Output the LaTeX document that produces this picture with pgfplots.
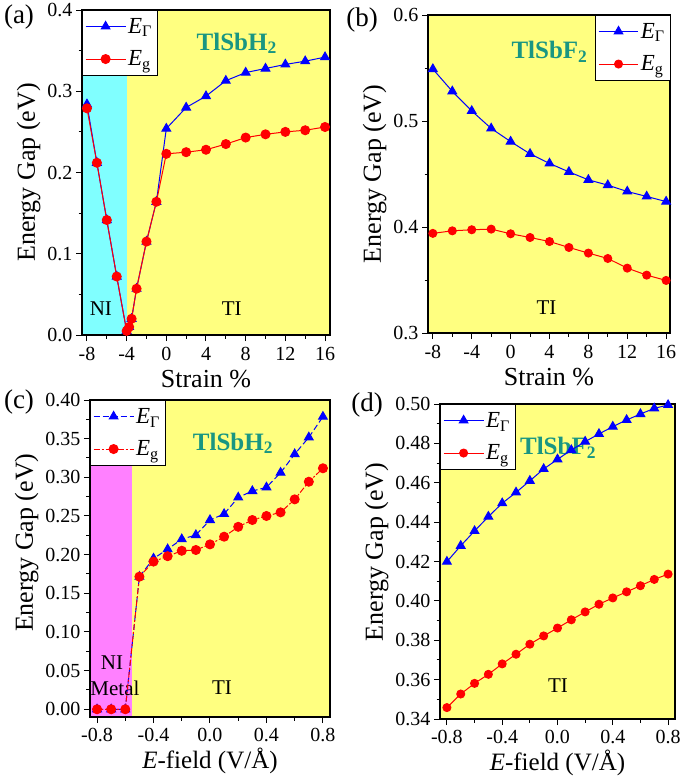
\documentclass[border=0pt]{standalone}
\usepackage{pgfplots}
\pgfplotsset{compat=1.18}
\usepackage{fontspec}
\setmainfont{Liberation Serif}
\definecolor{cyanbg}{RGB}{128,255,255}
\definecolor{yellowbg}{RGB}{255,255,128}
\definecolor{magbg}{RGB}{255,128,255}
\definecolor{tealtxt}{RGB}{25,150,130}
\tikzset{
 ann/.style={font=\fontsize{21}{21}\selectfont},
 mat/.style={font=\fontsize{25}{25}\selectfont\bfseries, text=tealtxt},
 plab/.style={font=\fontsize{27}{27}\selectfont},
}
\pgfplotsset{
 panel/.style={scale only axis, axis on top, clip=false,
  axis line style={line width=1.1pt},
  tick align=outside, xtick pos=bottom, ytick pos=left,
  major tick length=6pt, minor tick length=3.5pt,
  every tick/.append style={black,line width=1pt},
  tick label style={font=\fontsize{20}{20}\selectfont},
  xticklabel style={yshift=-3pt},
  label style={font=\fontsize{26}{26}\selectfont},
  xlabel style={yshift=-2pt},
  /pgf/number format/assume math mode=true,
  ylabel={Energy Gap (eV)},
  legend cell align=left,
  legend style={draw=black, fill=white, font=\fontsize{23}{23}\selectfont, inner xsep=3pt, inner ysep=6pt, row sep=12pt},
  legend image code/.code={\draw[mark repeat=2,mark phase=2,##1] plot coordinates {(0cm,0cm) (0.7cm,0cm) (1.4cm,0cm)};}},
 efield/.style={xlabel={\textit{E}-field (V/Å)}, xlabel style={yshift=3pt, font=\fontsize{25}{25}\selectfont}, xticklabel style={yshift=1pt}},
 gam/.style={blue, line width=1pt, mark=triangle*, mark size=5pt, mark options={solid}},
 gap/.style={red, line width=1pt, mark=*, mark size=4.5pt, mark options={solid}},
 bg/.style={draw=none, fill=#1, forget plot},
}
\begin{document}
\begin{tikzpicture}
\path[use as bounding box] (0,0) rectangle (685pt,-777pt);
% (a)
\begin{axis}[panel, at={(82pt,-335pt)}, anchor=south west, width=248pt, height=325pt,
 xmin=-8.5, xmax=16.5, ymin=0, ymax=0.4,
 xtick={-8,-4,0,4,8,12,16}, minor x tick num=1,
 ytick={0,0.1,0.2,0.3,0.4}, minor y tick num=1,
 yticklabel style={/pgf/number format/.cd, fixed, fixed zerofill, precision=1},
 xlabel={Strain \%},
 legend style={at={(0,1)}, anchor=north west}]
\addplot[bg=cyanbg] coordinates {(-8.5,0) (-4,0) (-4,0.4) (-8.5,0.4)} -- cycle;
\addplot[bg=yellowbg] coordinates {(-4,0) (16.5,0) (16.5,0.4) (-4,0.4)} -- cycle;
\node[mat] at (axis cs:7.1,0.359) {TlSbH\textsubscript{2}};
\node[ann] at (axis cs:-6.6,0.033) {NI};
\node[ann] at (axis cs:6.6,0.033) {TI};
\addplot[gam] coordinates {(-8,0.284) (-7,0.212) (-6,0.1415) (-5,0.072) (-4,0.005) (-3.75,0.01) (-3.5,0.02) (-3,0.057) (-2,0.115) (-1,0.164) (0,0.254) (2,0.280) (4,0.294) (6,0.313) (8,0.323) (10,0.328) (12,0.333) (14,0.337) (16,0.342)};
\addlegendentry{\textit{E}\textsubscript{Γ}}
\addplot[gap] coordinates {(-8,0.279) (-7,0.212) (-6,0.1415) (-5,0.072) (-4,0.005) (-3.75,0.01) (-3.5,0.02) (-3,0.057) (-2,0.115) (-1,0.164) (0,0.223) (2,0.225) (4,0.228) (6,0.235) (8,0.243) (10,0.247) (12,0.250) (14,0.252) (16,0.256)};
\addlegendentry{\textit{E}\textsubscript{g}}
\end{axis}
% (b)
\begin{axis}[panel, at={(428pt,-333pt)}, anchor=south west, width=242pt, height=318pt,
 xmin=-8.5, xmax=16.4, ymin=0.3, ymax=0.6,
 xtick={-8,-4,0,4,8,12,16}, minor x tick num=1,
 ytick={0.3,0.4,0.5,0.6}, minor y tick num=1,
 yticklabel style={/pgf/number format/.cd, fixed, fixed zerofill, precision=1},
 xlabel={Strain \%},
 gap/.append style={mark size=4pt},
 legend style={at={(1,1)}, anchor=north east}]
\addplot[bg=yellowbg] coordinates {(-8.5,0.3) (16.4,0.3) (16.4,0.6) (-8.5,0.6)} -- cycle;
\node[mat] at (axis cs:4.0,0.565) {TlSbF\textsubscript{2}};
\node[ann] at (axis cs:3.7,0.324) {TI};
\addplot[gam] coordinates {(-8,0.549) (-6,0.528) (-4,0.5095) (-2,0.493) (0,0.4806) (2,0.469) (4,0.460) (6,0.452) (8,0.4445) (10,0.4395) (12,0.4335) (14,0.4288) (16,0.424)};
\addlegendentry{\textit{E}\textsubscript{Γ}}
\addplot[gap] coordinates {(-8,0.394) (-6,0.3964) (-4,0.3974) (-2,0.398) (0,0.3936) (2,0.3901) (4,0.3863) (6,0.3807) (8,0.3754) (10,0.3703) (12,0.3612) (14,0.3546) (16,0.3496)};
\addlegendentry{\textit{E}\textsubscript{g}}
\end{axis}
% (c)
\begin{axis}[panel, efield, at={(90pt,-717pt)}, anchor=south west, width=240pt, height=317pt,
 xmin=-0.85, xmax=0.85, ymin=-0.01, ymax=0.40,
 xtick={-0.8,-0.4,0,0.4,0.8}, minor x tick num=1,
 ytick={0,0.05,0.10,0.15,0.20,0.25,0.30,0.35,0.40}, minor y tick num=1,
 xticklabel style={/pgf/number format/.cd, fixed, fixed zerofill, precision=1},
 yticklabel style={/pgf/number format/.cd, fixed, fixed zerofill, precision=2},
 ylabel style={at={(ticklabel cs:0.55)}},
 legend style={at={(0,1)}, anchor=north west}]
\addplot[bg=magbg] coordinates {(-0.85,-0.01) (-0.55,-0.01) (-0.55,0.40) (-0.85,0.40)} -- cycle;
\addplot[bg=yellowbg] coordinates {(-0.55,-0.01) (0.85,-0.01) (0.85,0.40) (-0.55,0.40)} -- cycle;
\node[mat] at (axis cs:0.163,0.344) {TlSbH\textsubscript{2}};
\node[ann] at (axis cs:-0.694,0.06) {NI};
\node[ann] at (axis cs:-0.673,0.0275) {Metal};
\node[ann] at (axis cs:0.085,0.0275) {TI};
\addplot[gam, dash pattern=on 6pt off 3pt] coordinates {(-0.8,0) (-0.7,0) (-0.6,0) (-0.5,0.1715) (-0.4,0.195) (-0.3,0.207) (-0.2,0.220) (-0.1,0.2254) (0.0,0.2448) (0.1,0.2526) (0.2,0.274) (0.3,0.2823) (0.4,0.287) (0.5,0.306) (0.6,0.330) (0.7,0.3517) (0.8,0.3784)};
\addlegendentry{\textit{E}\textsubscript{Γ}}
\addplot[gap, dash pattern=on 6pt off 2pt on 2pt off 2pt] coordinates {(-0.8,0) (-0.7,0) (-0.6,0) (-0.5,0.1715) (-0.4,0.191) (-0.3,0.198) (-0.2,0.205) (-0.1,0.206) (0.0,0.2133) (0.1,0.2232) (0.2,0.236) (0.3,0.2448) (0.4,0.250) (0.5,0.2547) (0.6,0.2715) (0.7,0.2943) (0.8,0.3117)};
\addlegendentry{\textit{E}\textsubscript{g}}
\end{axis}
% (d)
\begin{axis}[panel, efield, at={(440pt,-719pt)}, anchor=south west, width=235pt, height=315pt,
 xmin=-0.85, xmax=0.85, ymin=0.34, ymax=0.50,
 xtick={-0.8,-0.4,0,0.4,0.8}, minor x tick num=1,
 ytick={0.34,0.36,0.38,0.40,0.42,0.44,0.46,0.48,0.50}, minor y tick num=1,
 xticklabel style={/pgf/number format/.cd, fixed, fixed zerofill, precision=1},
 yticklabel style={/pgf/number format/.cd, fixed, fixed zerofill, precision=2},
 ylabel style={at={(ticklabel cs:0.53)}},
 gap/.append style={mark size=4pt},
 legend style={at={(0,1)}, anchor=north west}]
\addplot[bg=yellowbg] coordinates {(-0.85,0.34) (0.85,0.34) (0.85,0.50) (-0.85,0.50)} -- cycle;
\node[mat] at (axis cs:0.004,0.4777) {TlSbF\textsubscript{2}};
\node[ann] at (axis cs:0.004,0.357) {TI};
\addplot[gam] coordinates {(-0.8,0.4199) (-0.7,0.428) (-0.6,0.4355) (-0.5,0.4428) (-0.4,0.4496) (-0.3,0.4551) (-0.2,0.461) (-0.1,0.467) (0.0,0.4719) (0.1,0.4766) (0.2,0.4809) (0.3,0.4848) (0.4,0.4885) (0.5,0.4919) (0.6,0.4949) (0.7,0.4978) (0.8,0.4995)};
\addlegendentry{\textit{E}\textsubscript{Γ}}
\addplot[gap] coordinates {(-0.8,0.3458) (-0.7,0.3527) (-0.6,0.3581) (-0.5,0.3627) (-0.4,0.368) (-0.3,0.3729) (-0.2,0.378) (-0.1,0.3822) (0.0,0.3862) (0.1,0.3904) (0.2,0.3944) (0.3,0.3983) (0.4,0.4015) (0.5,0.4046) (0.6,0.4077) (0.7,0.4109) (0.8,0.4136)};
\addlegendentry{\textit{E}\textsubscript{g}}
\end{axis}
\node[plab] at (19pt,-17pt) {(a)};
\node[plab] at (362pt,-20pt) {(b)};
\node[plab] at (19pt,-402pt) {(c)};
\node[plab] at (367pt,-405pt) {(d)};
\end{tikzpicture}
\end{document}
